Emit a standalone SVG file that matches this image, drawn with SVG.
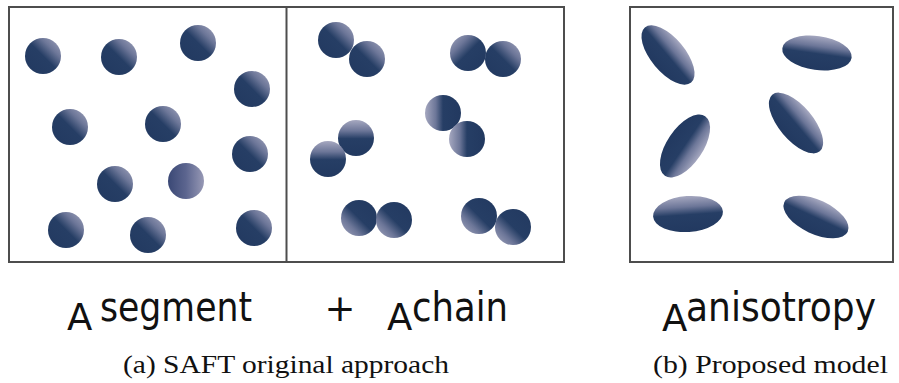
<svg xmlns="http://www.w3.org/2000/svg" width="899" height="383" viewBox="0 0 899 383">
  <defs>
    <!-- sphere shading: light corner fading into the navy body -->
    <linearGradient id="gTR" x1="1" y1="0" x2="0" y2="1">
      <stop offset="0" stop-color="#a6a8c0"/>
      <stop offset="0.28" stop-color="#6c7698"/>
      <stop offset="0.5" stop-color="#263e65"/>
      <stop offset="1" stop-color="#223960"/>
    </linearGradient>
    <linearGradient id="gTL" x1="0" y1="0" x2="1" y2="1">
      <stop offset="0" stop-color="#a6a8c0"/>
      <stop offset="0.28" stop-color="#6c7698"/>
      <stop offset="0.5" stop-color="#263e65"/>
      <stop offset="1" stop-color="#223960"/>
    </linearGradient>
    <linearGradient id="gBL" x1="0" y1="1" x2="1" y2="0">
      <stop offset="0" stop-color="#a6a8c0"/>
      <stop offset="0.28" stop-color="#6c7698"/>
      <stop offset="0.5" stop-color="#263e65"/>
      <stop offset="1" stop-color="#223960"/>
    </linearGradient>
    <linearGradient id="gL" x1="0" y1="0" x2="1" y2="0">
      <stop offset="0" stop-color="#a6a8c0"/>
      <stop offset="0.3" stop-color="#6c7698"/>
      <stop offset="0.5" stop-color="#263e65"/>
      <stop offset="1" stop-color="#223960"/>
    </linearGradient>
    <linearGradient id="gT" x1="0" y1="0" x2="0" y2="1">
      <stop offset="0" stop-color="#a6a8c0"/>
      <stop offset="0.3" stop-color="#6c7698"/>
      <stop offset="0.52" stop-color="#263e65"/>
      <stop offset="1" stop-color="#223960"/>
    </linearGradient>
    <linearGradient id="gB" x1="0" y1="1" x2="0" y2="0">
      <stop offset="0" stop-color="#a6a8c0"/>
      <stop offset="0.3" stop-color="#6c7698"/>
      <stop offset="0.52" stop-color="#263e65"/>
      <stop offset="1" stop-color="#223960"/>
    </linearGradient>
    <linearGradient id="gR" x1="0" y1="0" x2="1" y2="0">
      <stop offset="0" stop-color="#3a4875"/>
      <stop offset="0.5" stop-color="#5c658f"/>
      <stop offset="1" stop-color="#9799b5"/>
    </linearGradient>
  </defs>
  <style>
    .frame { fill: #ffffff; stroke: #4d4d4d; stroke-width: 2; }
    .div { stroke: #4d4d4d; stroke-width: 2; }
    .tr { fill: url(#gTR); }
    .tl { fill: url(#gTL); }
    .bl { fill: url(#gBL); }
    .lf { fill: url(#gL); }
    .tp { fill: url(#gT); }
    .bt { fill: url(#gB); }
    .rt { fill: url(#gR); }
    .big { font-family: "DejaVu Sans", Verdana, sans-serif; font-size: 37px; fill: #111111; }
    .sup { font-family: "DejaVu Sans", Verdana, sans-serif; font-size: 40px; fill: #111111; }
    .cap { font-family: "Liberation Serif", "DejaVu Serif", serif; font-size: 26px; fill: #111111; }
  </style>

  <rect width="899" height="383" fill="#ffffff"/>

  <!-- (a) segments and chains -->
  <g id="panel-a">
    <rect class="frame" x="9" y="7" width="555" height="255"/>
    <line class="div" x1="286.5" y1="7" x2="286.5" y2="262"/>
  </g>

  <g id="segments">
    <circle class="tr" cx="43" cy="56" r="18"/>
    <circle class="tr" cx="119" cy="57" r="18"/>
    <circle class="tr" cx="198" cy="43" r="18"/>
    <circle class="tr" cx="252" cy="89" r="18"/>
    <circle class="tr" cx="70" cy="127" r="18"/>
    <circle class="tr" cx="163" cy="124" r="18"/>
    <circle class="tr" cx="250" cy="154" r="18"/>
    <circle class="tr" cx="115" cy="184" r="18"/>
    <circle class="rt" cx="186" cy="181" r="18"/>
    <circle class="tr" cx="66" cy="230" r="18"/>
    <circle class="tr" cx="148" cy="235" r="18"/>
    <circle class="tr" cx="254" cy="228" r="18"/>
  </g>

  <g id="chains">
    <g id="chain-1">
      <circle class="tr" cx="336" cy="40" r="18"/>
      <circle class="tr" cx="367" cy="59" r="18"/>
    </g>
    <g id="chain-2">
      <circle class="tl" cx="468" cy="53" r="18"/>
      <circle class="tr" cx="503" cy="59" r="18"/>
    </g>
    <g id="chain-3">
      <circle class="lf" cx="443" cy="113" r="18"/>
      <circle class="lf" cx="467" cy="139" r="18"/>
    </g>
    <g id="chain-4">
      <circle class="tp" cx="356" cy="138" r="18"/>
      <circle class="tp" cx="328" cy="159" r="18"/>
    </g>
    <g id="chain-5">
      <circle class="bl" cx="359" cy="218" r="18"/>
      <circle class="bl" cx="394" cy="220" r="18"/>
    </g>
    <g id="chain-6">
      <circle class="bl" cx="479" cy="216" r="18"/>
      <circle class="bl" cx="513" cy="227" r="18"/>
    </g>
  </g>

  <!-- (b) anisotropic particles -->
  <g id="panel-b">
    <rect class="frame" x="630" y="7" width="263" height="255"/>
  </g>

  <g id="ellipsoids">
    <ellipse class="tp" cx="0" cy="0" rx="36" ry="17" transform="translate(668 55) rotate(50)"/>
    <ellipse class="tp" cx="0" cy="0" rx="35" ry="17" transform="translate(817 53) rotate(8)"/>
    <ellipse class="tp" cx="0" cy="0" rx="37" ry="17" transform="translate(796 123) rotate(50)"/>
    <ellipse class="bt" cx="0" cy="0" rx="36" ry="18" transform="translate(685 146) rotate(-56)"/>
    <ellipse class="tp" cx="0" cy="0" rx="35" ry="18" transform="translate(688 214) rotate(-4)"/>
    <ellipse class="tp" cx="0" cy="0" rx="35" ry="17" transform="translate(816 217) rotate(25)"/>
  </g>

  <!-- free-energy terms -->
  <g id="term-segment">
    <text class="big" x="67" y="330">A</text>
    <text class="sup" x="100" y="321" textLength="152" lengthAdjust="spacingAndGlyphs">segment</text>
  </g>
  <g id="term-plus">
    <text class="big" x="340" y="321" text-anchor="middle">+</text>
  </g>
  <g id="term-chain">
    <text class="big" x="387" y="330">A</text>
    <text class="sup" x="412" y="321" textLength="96" lengthAdjust="spacingAndGlyphs">chain</text>
  </g>
  <g id="term-anisotropy">
    <text class="big" x="662" y="331">A</text>
    <text class="sup" x="686" y="321" textLength="190" lengthAdjust="spacingAndGlyphs">anisotropy</text>
  </g>

  <!-- subfigure captions -->
  <text class="cap" x="123" y="373" textLength="326" lengthAdjust="spacingAndGlyphs">(a) SAFT original approach</text>
  <text class="cap" x="653" y="373" textLength="235" lengthAdjust="spacingAndGlyphs">(b) Proposed model</text>
</svg>
